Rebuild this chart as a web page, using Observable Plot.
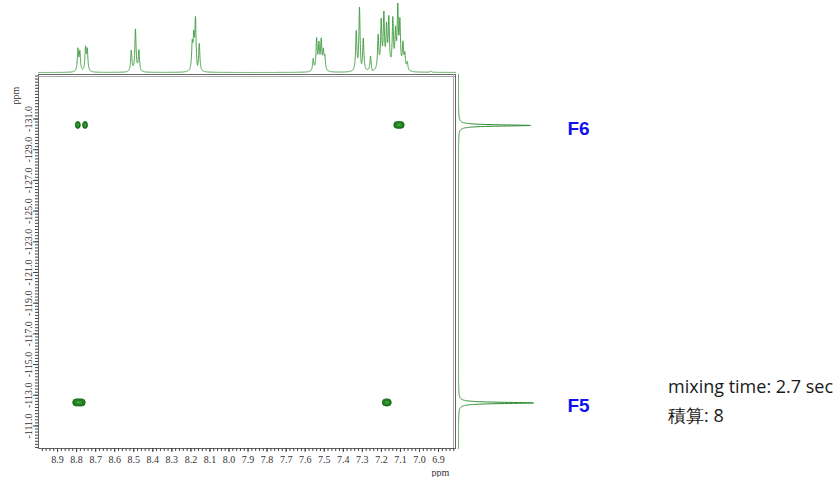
<!DOCTYPE html>
<html><head><meta charset="utf-8">
<script src="https://cdn.jsdelivr.net/npm/d3@7"></script>
<script src="https://cdn.jsdelivr.net/npm/@observablehq/plot@0.6"></script>
<style>
body{margin:0;background:#fff;}
#wrap{position:relative;width:840px;height:477px;overflow:hidden;background:#fff;}
#wrap svg{position:absolute;overflow:visible;}
.note{position:absolute;font-family:"Open Sans",sans-serif;font-size:18px;color:#1a1a1a;white-space:nowrap;line-height:1;}
</style></head><body><div id="wrap"></div>
<script>
// ---- 1H projection (top): peak positions (ppm) and heights (arbitrary) ----
const hPeakPpm    = [8.793, 8.783, 8.753, 8.744, 8.513, 8.491, 8.473, 8.193, 8.185, 8.176, 8.156,
                     7.558, 7.540, 7.528, 7.516, 7.505, 7.497, 7.332, 7.315, 7.295, 7.257,
                     7.217, 7.201, 7.187, 7.173, 7.161, 7.140, 7.126, 7.114, 7.103, 7.087, 7.077, 7.064, 6.940,
                     8.166, 7.323, 7.305, 7.248];
const hPeakHeight = [22, 19, 23, 21, 21, 42, 21, 25, 30, 50, 27,
                     12, 31, 25, 29, 18, 13, 39, 63, 32, 15,
                     34, 47, 53, 40, 49, 49, 35, 59, 45, 25, 15, 8, 1.5,
                     -4, -3, -4, -2];
// ---- 19F projection (right) ----
const fLabels     = ["F6", "F5"];
const fPeakPpm    = [-130.58, -112.50];
const fPeakHeight = [72, 75];
// ---- 2D cross peaks ----
const crossH  = [8.791, 8.753, 7.105, 8.785, 7.169];
const crossF  = [-130.58, -130.58, -130.58, -112.50, -112.50];
const crossHW = [0.026, 0.026, 0.055, 0.066, 0.047];
const crossFW = [0.46, 0.46, 0.44, 0.46, 0.46];
// ---- axes ----
const xDomain = [9.0, 6.811];
const yDomain = [-133.9, -109.53];
const xTickLabels = [8.9, 8.8, 8.7, 8.6, 8.5, 8.4, 8.3, 8.2, 8.1, 8.0, 7.9, 7.8, 7.7, 7.6, 7.5, 7.4, 7.3, 7.2, 7.1, 7.0, 6.9];
const yTickLabels = [-131, -129, -127, -125, -123, -121, -119, -117, -115, -113, -111];
const notes = ["mixing time: 2.7 sec", "積算: 8"];

// line shapes built from the peak lists
const lor = (x, p, w) => 1 / (1 + ((x - p) / w) ** 2);
const hSpec = d3.range(6.811, 9.0, 0.0005).map(x => ({
  ppm: x, i: d3.sum(hPeakPpm, (p, k) => hPeakHeight[k] * lor(x, p, 0.0038))
}));
const fSpec = d3.range(-133.9, -109.53, 0.005).map(y => ({
  ppm: y, i: d3.sum(fPeakPpm, (p, k) => fPeakHeight[k] * lor(y, p, 0.05))
}));
const cross = crossH.map((h, k) => ({
  x1: h + crossHW[k] / 2, x2: h - crossHW[k] / 2,
  y1: crossF[k] - crossFW[k] / 2, y2: crossF[k] + crossFW[k] / 2
}));
const crossInner = crossH.map((h, k) => ({
  x1: h + crossHW[k] * 0.22, x2: h - crossHW[k] * 0.22,
  y1: crossF[k] - crossFW[k] * 0.2, y2: crossF[k] + crossFW[k] * 0.2
}));

const xMinor = d3.range(6.82, 9.0, 0.02);
const yMinor = d3.range(-133.8, -109.5, 0.2);
const wrap = document.getElementById("wrap");
const axisStyle = {fontFamily: "Liberation Serif", fontSize: "10px", color: "#333", background: "transparent", overflow: "visible"};

const mainPlot = Plot.plot({
  width: 457, height: 477,
  marginLeft: 38, marginRight: 2, marginTop: 74, marginBottom: 29,
  x: {domain: xDomain, axis: null},
  y: {domain: yDomain, reverse: true, axis: null},
  style: axisStyle,
  marks: [
    Plot.frame({stroke: "#666", strokeWidth: 1}),
    Plot.ruleY([yDomain[0]], {dy: 2, stroke: "#aaa"}),
    Plot.ruleX([xDomain[1]], {dx: -2, stroke: "#aaa"}),
    Plot.axisY(yMinor, {anchor: "left", tickSize: 3, tickFormat: () => "", stroke: "#444"}),
    Plot.axisY(yTickLabels, {anchor: "left", tickSize: 5, tickPadding: 2, tickRotate: -90, tickFormat: d => d.toFixed(1), stroke: "#444"}),
    Plot.axisX(xMinor, {anchor: "bottom", tickSize: 3, tickFormat: () => "", stroke: "#444"}),
    Plot.axisX(xTickLabels, {anchor: "bottom", tickSize: 4, tickPadding: 3, tickFormat: d => d.toFixed(1), stroke: "#444"}),
    Plot.rect(cross, {x1: "x1", x2: "x2", y1: "y1", y2: "y2", rx: 3.5, fill: "#1f7f1f", stroke: "#136513", strokeWidth: 0.8}),
    Plot.rect(crossInner, {x1: "x1", x2: "x2", y1: "y1", y2: "y2", rx: 1.5, fill: "#3f9f3f"}),
    Plot.text(["ppm"], {frameAnchor: "bottom-right", dx: -15, dy: 24, textAnchor: "middle", lineAnchor: "middle", fill: "#333"}),
    Plot.text(["ppm"], {frameAnchor: "top-left", dx: -23, dy: 21, rotate: -90, textAnchor: "middle", lineAnchor: "middle", fill: "#333"})
  ]
});
mainPlot.style.left = "0px"; mainPlot.style.top = "0px";
wrap.appendChild(mainPlot);

const topPlot = Plot.plot({
  width: 457, height: 76,
  marginLeft: 38, marginRight: 2, marginTop: 6, marginBottom: 4,
  x: {domain: xDomain, axis: null},
  y: {domain: [0, 66], axis: null},
  style: {background: "transparent", overflow: "visible"},
  marks: [Plot.line(hSpec, {x: "ppm", y: "i", stroke: "#3d983d", strokeWidth: 0.9})]
});
topPlot.style.left = "0px"; topPlot.style.top = "0px";
wrap.appendChild(topPlot);

const rightPlot = Plot.plot({
  width: 385, height: 477,
  marginLeft: 3, marginRight: 0, marginTop: 74, marginBottom: 29,
  x: {domain: [0, 382], axis: null},
  y: {domain: yDomain, reverse: true, axis: null},
  style: {background: "transparent", overflow: "visible"},
  marks: [
    Plot.line(fSpec, {x: "i", y: "ppm", stroke: "#2f8a2f", strokeWidth: 1}),
    Plot.text(fLabels, {y: (d, k) => fPeakPpm[k], frameAnchor: "left", dx: 109, dy: 3, textAnchor: "start",
      fill: "#1212f0", fontSize: 19, fontWeight: "bold", fontFamily: "Liberation Sans"})
  ]
});
rightPlot.style.left = "455px"; rightPlot.style.top = "0px";
wrap.appendChild(rightPlot);

notes.forEach((t, k) => {
  const d = document.createElement("div");
  d.className = "note";
  d.textContent = t;
  d.style.left = "668px";
  d.style.top = (k === 0 ? 377 : 406) + "px";
  wrap.appendChild(d);
});
</script></body></html>
